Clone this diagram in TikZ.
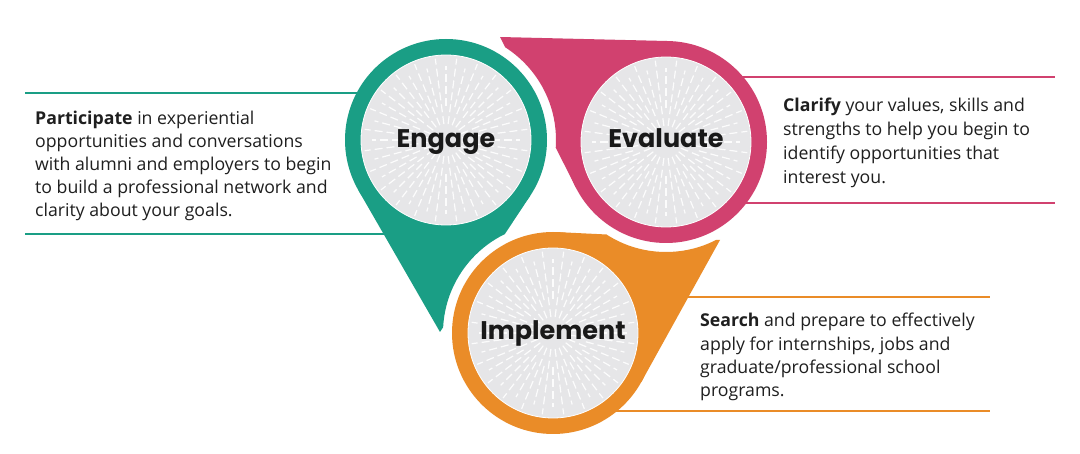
\documentclass[tikz,border=0pt]{standalone}
\usepackage{fontspec}
\setmainfont{Open Sans}
\newfontfamily\titlefont{Poppins}
\usetikzlibrary{calc}
\definecolor{cteal}{HTML}{1A9E85}
\definecolor{cpink}{HTML}{D1416F}
\definecolor{corange}{HTML}{EA8C28}
\definecolor{cgray}{HTML}{E6E6E8}
\newcommand{\lines}[1]{\begin{tabular}[t]{@{}l@{}}#1\end{tabular}}
\begin{document}
\begin{tikzpicture}[x=1pt,y=-1pt,
  outer/.style={circle, fill=#1, minimum size=202pt, inner sep=0pt, outer sep=0pt},
  innerc/.style={circle, fill=cgray, draw=white, line width=0.8pt, minimum size=170pt, inner sep=0pt},
  title/.style={font=\titlefont\bfseries\fontsize{25.5}{28}\selectfont, text=black!90, anchor=base, inner sep=0pt},
  body/.style={font=\fontsize{17.7}{#1}\selectfont, anchor=base west, inner sep=0pt, text=black!88},
  rulel/.style={line width=1.3pt, draw=#1},
  ray/.style={draw=white, line width=1.2pt, dash pattern=on 8pt off 4pt, opacity=0.9}
]
\useasboundingbox[fill=white] (0,0) rectangle (1080,454);

% centres and tips
\coordinate (cE) at (446,140);
\coordinate (cV) at (666,142);
\coordinate (cI) at (553,333);
\coordinate (tE) at (440,332);
\coordinate (tV) at (500,37);
\coordinate (tI) at (720,240);

% text rules
\draw[rulel=cteal] (25,93) -- (420,93);
\draw[rulel=cteal] (25,234) -- (420,234);
\draw[rulel=cpink] (720,77) -- (1055,77);
\draw[rulel=cpink] (720,203) -- (1055,203);
\draw[rulel=corange] (660,297) -- (990,297);
\draw[rulel=corange] (600,411) -- (990,411);

% outer circles
\node[outer=cteal] (engage) at (cE) {};
\node[outer=cpink] (evaluate) at (cV) {};
\node[outer=corange] (implement) at (cI) {};

% tails, each cut by the next circle's halo
\begin{scope}
  \clip (-10,-10) rectangle (1100,470) (cI) circle (110);
  \fill[cteal] (tE) -- (tangent cs:node=engage,point={(tE)},solution=1) -- (cE)
     -- (tangent cs:node=engage,point={(tE)},solution=2) -- cycle;
\end{scope}
\begin{scope}
  \clip (-10,-10) rectangle (1100,470) (cE) circle (110);
  \fill[cpink] (tV) -- (tangent cs:node=evaluate,point={(tV)},solution=1) -- (cV)
     -- (tangent cs:node=evaluate,point={(tV)},solution=2) -- cycle;
\end{scope}
\begin{scope}
  \clip (-10,-10) rectangle (1100,470) (cV) circle (110);
  \fill[corange] (tI) -- (tangent cs:node=implement,point={(tI)},solution=1) -- (cI)
     -- (tangent cs:node=implement,point={(tI)},solution=2) -- cycle;
\end{scope}

% inner discs
\node[innerc] (engageIn) at (cE) {};
\node[innerc] (evaluateIn) at (cV) {};
\node[innerc] (implementIn) at (cI) {};

% rays
\foreach \c in {cE,cV,cI}{
  \foreach \a [count=\i] in {0,7.5,...,352.5}{
    \pgfmathsetmacro\rs{mod(\i,2)==0 ? 16 : 34}
    \pgfmathsetmacro\re{mod(\i,2)==0 ? 82 : 74}
    \draw[ray] ($(\c)+(\a:\rs)$) -- ($(\c)+(\a:\re)$);
  }
}

% titles
\node[title] (tEngage) at (446,148) {Engage};
\node[title] (tEvaluate) at (666,148) {Evaluate};
\node[title] (tImplement) at (553,340) {Implement};

% body texts
\node[body=23] (txtE) at (35,125) {\lines{\textbf{Participate} in experiential\\
opportunities and conversations\\
with alumni and employers to begin\\
to build a professional network and\\
clarity about your goals.}};
\node[body=23.7] (txtV) at (783,112) {\lines{\textbf{Clarify} your values, skills and\\
strengths to help you begin to\\
identify opportunities that\\
interest you.}};
\node[body=23.3] (txtI) at (700,327) {\lines{\textbf{Search} and prepare to effectively\\
apply for internships, jobs and\\
graduate/professional school\\
programs.}};
\end{tikzpicture}
\end{document}
